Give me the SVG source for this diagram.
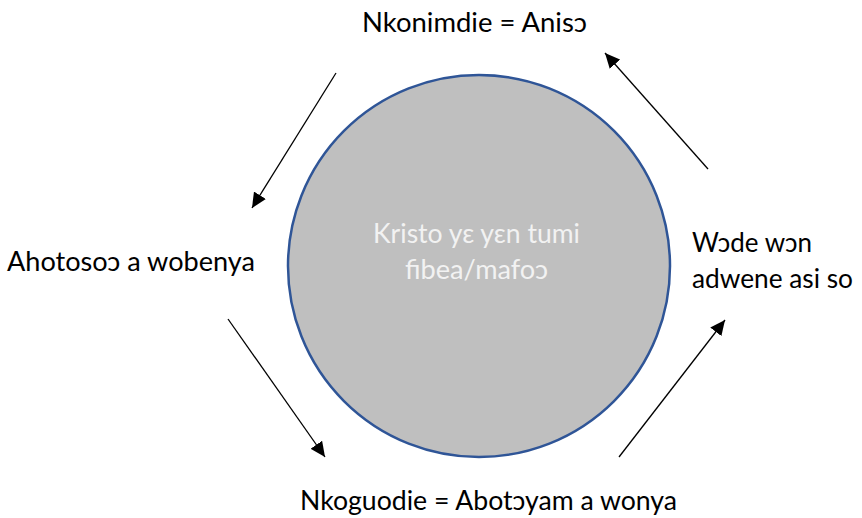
<svg xmlns="http://www.w3.org/2000/svg" width="862" height="518" viewBox="0 0 862 518">
<style>
.t{font-family:Lato,"Open Sans","Liberation Sans",sans-serif;font-size:26px;fill:#000}
.c{font-family:Lato,"Open Sans","Liberation Sans",sans-serif;font-size:26px;fill:#f2f2f2}
.a{stroke:#000;stroke-width:1.3;fill:none;marker-end:url(#ah)}
</style>
<defs>
<marker id="ah" markerUnits="userSpaceOnUse" markerWidth="16" markerHeight="14" refX="15" refY="7" orient="auto">
<path d="M0,0 L15,7 L0,14 Z" fill="#000"/>
</marker>
</defs>
<g id="center">
<circle cx="479" cy="266" r="191" fill="#bfbfbf" stroke="#2f5597" stroke-width="2.5"/>
<text class="c" x="373" y="243" textLength="207" lengthAdjust="spacingAndGlyphs">Kristo yɛ yɛn tumi</text>
<text class="c" x="405" y="279" textLength="143" lengthAdjust="spacingAndGlyphs">fibea/mafoɔ</text>
</g>
<g id="top"><text class="t" x="362" y="32" textLength="225" lengthAdjust="spacingAndGlyphs">Nkonimdie = Anisɔ</text></g>
<g id="left"><text class="t" x="7" y="271" textLength="248" lengthAdjust="spacingAndGlyphs">Ahotosoɔ a wobenya</text></g>
<g id="right"><text class="t" x="692" y="252" textLength="120" lengthAdjust="spacingAndGlyphs">Wɔde wɔn</text><text class="t" x="692" y="288" textLength="161" lengthAdjust="spacingAndGlyphs">adwene asi so</text></g>
<g id="bottom"><text class="t" x="300" y="510" textLength="377" lengthAdjust="spacingAndGlyphs">Nkoguodie = Abotɔyam a wonya</text></g>
<g id="connectors">
<line class="a" x1="336" y1="73" x2="252" y2="208"/>
<line class="a" x1="708" y1="169" x2="605" y2="53"/>
<line class="a" x1="228" y1="319" x2="325" y2="457"/>
<line class="a" x1="619" y1="457" x2="725" y2="320"/>
</g>
</svg>
